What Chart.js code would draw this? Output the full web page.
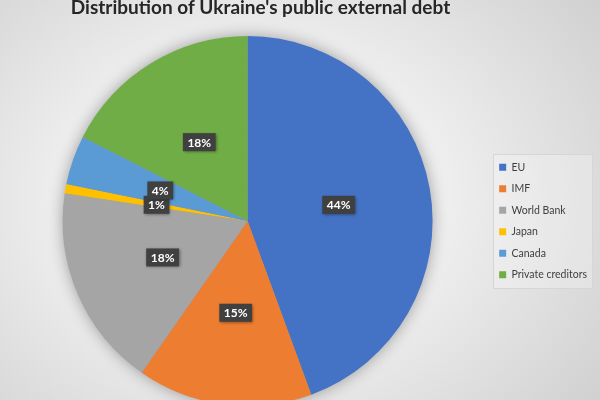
<!DOCTYPE html>
<html><head><meta charset="utf-8">
<script src="https://cdn.jsdelivr.net/npm/chart.js@4.4.0/dist/chart.umd.min.js"></script>
<style>
html,body{margin:0;padding:0;width:600px;height:400px;overflow:hidden;}
body{background: radial-gradient(ellipse 430px 340px at 255px 200px, #f9f9f9 0%, #eeeeee 45%, #d0d0d0 100%);}
#wrap{position:absolute;left:0;top:-4px;width:600px;height:410px;}
</style></head><body>
<div id="wrap"><canvas id="c"></canvas></div>
<script>
const TITLE = "Distribution of Ukraine's public external debt";
const categories = ['EU', 'IMF', 'World Bank', 'Japan', 'Canada', 'Private creditors'];
const shares = [44.4, 15.3, 17.7, 0.8, 4.3, 17.5];
const colors = ['#4472C4', '#ED7D31', '#A5A5A5', '#FFC000', '#5B9BD5', '#70AD47'];

const titleShift = {
  id: 'titleShift',
  afterLayout(chart) {
    const t = chart.titleBlock;
    if (t) { t.left = 0; t.right = 521; }
  }
};

const legendFrame = {
  id: 'legendFrame',
  beforeDraw(chart) {
    const lg = chart.legend;
    if (!lg || !lg.legendHitBoxes || !lg.legendHitBoxes.length) return;
    const hb = lg.legendHitBoxes;
    let l = Infinity, t = Infinity, r = -Infinity, b = -Infinity;
    hb.forEach(h => { l = Math.min(l, h.left); t = Math.min(t, h.top); r = Math.max(r, h.left + h.width); b = Math.max(b, h.top + h.height); });
    const ctx = chart.ctx;
    ctx.save();
    ctx.fillStyle = 'rgba(255,255,255,0.25)';
    ctx.strokeStyle = '#d6d6d6';
    ctx.lineWidth = 1;
    const x = Math.round(l - 6) + 0.5, y = Math.round(t - 8) + 0.5;
    const w = Math.round(r + 5 - l + 6), h = Math.round(b + 8 - t + 8);
    ctx.fillRect(x, y, w, h);
    ctx.strokeRect(x, y, w, h);
    ctx.restore();
  }
};

const pieShadow = {
  id: 'pieShadow',
  beforeDatasetsDraw(chart) {
    const arc = chart.getDatasetMeta(0).data[0];
    if (!arc) return;
    const p = arc.getProps(['x', 'y', 'outerRadius'], true);
    const ctx = chart.ctx;
    ctx.save();
    ctx.shadowColor = 'rgba(0,0,0,0.38)';
    ctx.shadowBlur = 16;
    ctx.fillStyle = '#999';
    ctx.beginPath();
    ctx.arc(p.x, p.y, p.outerRadius - 1, 0, Math.PI * 2);
    ctx.fill();
    ctx.restore();
  }
};

const sliceLabels = {
  id: 'sliceLabels',
  afterDatasetsDraw(chart) {
    const ctx = chart.ctx;
    const data = chart.data.datasets[0].data;
    const total = data.reduce((a, b) => a + b, 0);
    chart.getDatasetMeta(0).data.forEach((arc, i) => {
      const p = arc.getProps(['x', 'y', 'startAngle', 'endAngle', 'outerRadius'], true);
      const mid = (p.startAngle + p.endAngle) / 2;
      const r = p.outerRadius * 0.5;
      const cx = p.x + Math.cos(mid) * r;
      const cy = p.y + Math.sin(mid) * r;
      const txt = Math.round(data[i] / total * 100) + '%';
      ctx.save();
      ctx.font = 'bold 12px Lato, "Liberation Sans", sans-serif';
      const tw = ctx.measureText(txt).width;
      const bw = tw + 9, bh = 18;
      ctx.shadowColor = 'rgba(0,0,0,0.45)';
      ctx.shadowBlur = 3;
      ctx.shadowOffsetX = 1;
      ctx.shadowOffsetY = 1;
      ctx.fillStyle = '#404040';
      ctx.fillRect(cx - bw / 2, cy - bh / 2, bw, bh);
      ctx.shadowColor = 'transparent';
      ctx.fillStyle = '#ffffff';
      ctx.textAlign = 'center';
      ctx.textBaseline = 'middle';
      ctx.fillText(txt, cx, cy + 0.5);
      ctx.restore();
    });
  }
};

new Chart(document.getElementById('c'), {
  type: 'pie',
  data: {
    labels: categories,
    datasets: [{
      data: shares,
      backgroundColor: colors,
      borderWidth: 0
    }]
  },
  options: {
    responsive: true,
    maintainAspectRatio: false,
    animation: false,
    layout: { padding: { left: 7, right: 3, top: 0, bottom: 0 } },
    plugins: {
      title: {
        display: true,
        text: TITLE,
        color: '#262626',
        font: { family: 'Lato, "Liberation Sans", sans-serif', size: 19, weight: 'bold' },
        padding: { top: 0, bottom: 17.2 }
      },
      legend: {
        position: 'right',
        fullSize: false,
        labels: {
          boxWidth: 7,
          boxHeight: 7,
          padding: 11,
          color: '#404040',
          font: { family: 'Lato, "Liberation Sans", sans-serif', size: 10.5 }
        }
      },
      tooltip: { enabled: false }
    }
  },
  plugins: [titleShift, legendFrame, pieShadow, sliceLabels]
});
</script>
</body></html>
